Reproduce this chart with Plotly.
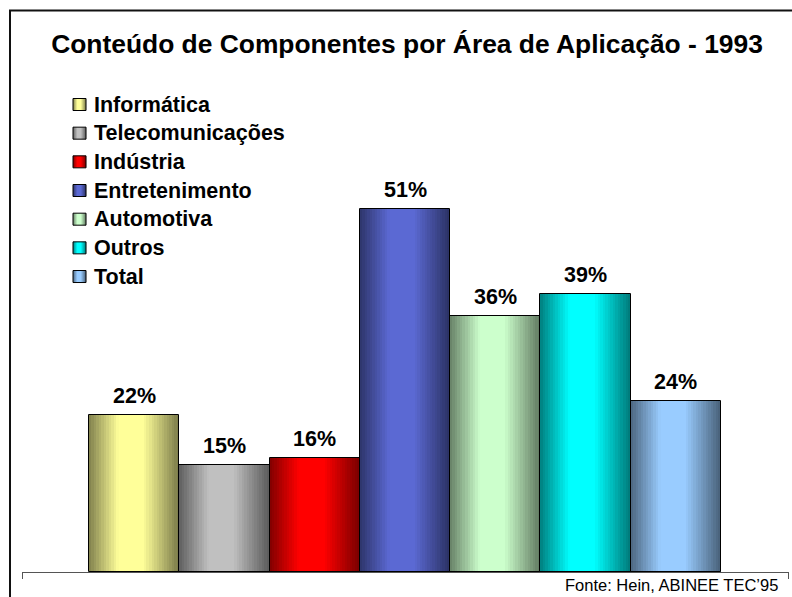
import plotly.graph_objects as go

# data
areas = ["Informática", "Telecomunicações", "Indústria", "Entretenimento",
         "Automotiva", "Outros", "Total"]
percent = [22, 15, 16, 51, 36, 39, 24]
labels = ["22%", "15%", "16%", "51%", "36%", "39%", "24%"]
base_colors = [(255, 255, 153), (192, 192, 192), (255, 0, 0), (91, 105, 211),
               (204, 255, 204), (0, 255, 255), (153, 204, 255)]

FONT = "Arial, Liberation Sans, sans-serif"
N_STRIPS = 36

# geometry (pixels)
W, H = 792, 597
ML, MR, MT, MB = 22, 3, 60, 25
plot_w = W - ML - MR
plot_h = H - MT - MB


def px(x):
    return (x - ML) / plot_w


def py(y):
    return (H - MB - y) / plot_h


def shade(t):
    # dark - light - dark horizontal gradient profile
    pts = [(0.0, 0.5), (0.33, 1.0), (0.6, 1.0), (1.0, 0.47)]
    for (t0, f0), (t1, f1) in zip(pts[:-1], pts[1:]):
        if t0 <= t <= t1:
            return f0 + (f1 - f0) * (t - t0) / (t1 - t0)
    return pts[-1][1]


def rgb(c, f=1.0):
    return "rgb(%d,%d,%d)" % tuple(round(v * f) for v in c)


fig = go.Figure()

# gradient strips
sx, sy, sw, sc = [], [], [], []
for i, (v, c) in enumerate(zip(percent, base_colors)):
    for k in range(N_STRIPS):
        t = (k + 0.5) / N_STRIPS
        sx.append(i - 0.5 + t)
        sy.append(v)
        sw.append(1.15 / N_STRIPS)
        sc.append(rgb(c, shade(t)))
fig.add_trace(go.Bar(
    x=sx, y=sy, width=sw, showlegend=False, hoverinfo="skip",
    marker=dict(color=sc, line=dict(width=0)),
))

# outlines
fig.add_trace(go.Bar(
    x=list(range(len(areas))), y=percent, width=[1] * len(areas),
    showlegend=False, hoverinfo="skip",
    marker=dict(color="rgba(0,0,0,0)", line=dict(color="black", width=1)),
))

# value labels
for i, (v, lab) in enumerate(zip(percent, labels)):
    fig.add_annotation(x=i, y=v, text="<b>%s</b>" % lab, showarrow=False,
                       yanchor="middle", yshift=19,
                       font=dict(family=FONT, size=21.5, color="black"))

# legend (drawn by hand to match the tight spacing)
leg_top, leg_step = 104.5, 28.67
for i, (name, c) in enumerate(zip(areas, base_colors)):
    yc = leg_top + i * leg_step
    x0, x1 = 73, 86
    n = 13
    for k in range(n):
        t = (k + 0.5) / n
        fig.add_shape(type="rect", xref="paper", yref="paper",
                      x0=px(x0 + k * (x1 - x0) / n), x1=px(x0 + (k + 1.1) * (x1 - x0) / n),
                      y0=py(yc + 6), y1=py(yc - 6),
                      fillcolor=rgb(c, shade(t)), line=dict(width=0), layer="above")
    fig.add_shape(type="rect", xref="paper", yref="paper",
                  x0=px(x0), x1=px(x1), y0=py(yc + 6), y1=py(yc - 6),
                  line=dict(color="black", width=1), layer="above")
    fig.add_annotation(xref="paper", yref="paper", x=px(92), y=py(yc),
                       xanchor="left", yanchor="middle", showarrow=False,
                       text="<b>%s</b>" % name,
                       font=dict(family=FONT, size=21.5, color="black"))

# source note
fig.add_annotation(xref="paper", yref="paper", x=px(563), y=py(585),
                   xanchor="left", yanchor="middle",
                   text="Fonte: Hein, ABINEE TEC’95", showarrow=False,
                   font=dict(family=FONT, size=16.5, color="black"))

# outer frame
fig.add_shape(type="rect", xref="paper", yref="paper",
              x0=px(10), x1=px(830), y0=py(650), y1=py(10.5),
              line=dict(color="#111111", width=2))

px_per_unit = 632 / 7
x_lo = -0.5 - (89 - ML) / px_per_unit
x_hi = 6.5 + (W - MR - 721) / px_per_unit

fig.update_layout(
    width=W, height=H,
    margin=dict(l=ML, r=MR, t=MT, b=MB),
    paper_bgcolor="white", plot_bgcolor="white",
    barmode="overlay", bargap=0, showlegend=False,
    title=dict(text="<b>Conteúdo de Componentes por Área de Aplicação - 1993</b>",
               x=407 / W, xref="container", xanchor="center",
               y=1 - 44 / H, yref="container", yanchor="middle",
               font=dict(family=FONT, size=26.4, color="black")),
    xaxis=dict(range=[x_lo, x_hi], showgrid=False, zeroline=False,
               showline=True, linecolor="#555555", linewidth=1,
               tickmode="array", tickvals=[x_lo + 0.005, x_hi - 0.005],
               ticktext=["", ""], ticks="outside", ticklen=6,
               tickcolor="#555555", tickwidth=1),
    yaxis=dict(range=[0, plot_h / 7.12], visible=False),
)

fig.write_html("out.html", config={"displayModeBar": False},
               post_script="document.body.style.margin='0';"
                           "document.body.style.overflow='hidden';")
